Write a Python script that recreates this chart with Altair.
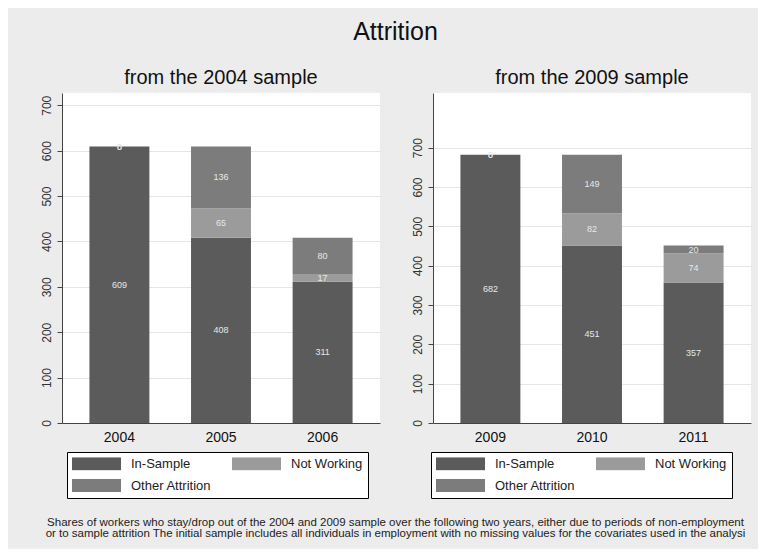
import altair as alt
import pandas as pd

FONT = "Liberation Sans, Arial, sans-serif"

categories = ["In-Sample", "Not Working", "Other Attrition"]
colors = ["#5b5b5b", "#9b9b9b", "#7c7c7c"]
legend_order = ["In-Sample", "Other Attrition", "Not Working"]

years_2004 = ["2004", "2005", "2006"]
in_sample_2004 = [609, 408, 311]
not_working_2004 = [0, 65, 17]
other_attrition_2004 = [0, 136, 80]

years_2009 = ["2009", "2010", "2011"]
in_sample_2009 = [682, 451, 357]
not_working_2009 = [0, 82, 74]
other_attrition_2009 = [0, 149, 20]

y_ticks = [0, 100, 200, 300, 400, 500, 600, 700]

main_title = "Attrition"
subtitles = ["from the 2004 sample", "from the 2009 sample"]
footnote = [
    "Shares of workers who stay/drop out of the 2004 and 2009 sample over the following two years, either due to periods of non-employment",
    " or to sample attrition  The initial sample includes all individuals in employment with no missing values for the covariates used in the analysi",
]


def panel(years, ins, nw, oa, title, ymax, legend_x):
    rows = []
    for i, yr in enumerate(years):
        for k, (cat, vals) in enumerate(zip(categories, [ins, nw, oa])):
            rows.append({"year": yr, "category": cat, "value": vals[i], "order": k})
    df = pd.DataFrame(rows)
    base = alt.Chart(df)
    xenc = alt.X(
        "year:N",
        sort=years,
        scale=alt.Scale(paddingInner=0.41, paddingOuter=0.27),
        axis=alt.Axis(title=None, labelAngle=0, labelFontSize=14, labelColor="#111",
                      labelFont=FONT, ticks=False, domainColor="#444", labelPadding=7,
                      grid=False),
    )
    yscale = alt.Scale(domain=[0, ymax], nice=False, zero=True)
    bars = base.mark_bar().encode(
        x=xenc,
        y=alt.Y(
            "value:Q",
            stack="zero",
            scale=yscale,
            axis=alt.Axis(title=None, values=y_ticks, labelAngle=270, labelFontSize=12,
                          labelColor="#333", labelFont=FONT, tickSize=5, tickColor="#444",
                          domainColor="#444", gridColor="#e6e6e6", labelPadding=4),
        ),
        color=alt.Color(
            "category:N",
            scale=alt.Scale(domain=categories, range=colors),
            legend=alt.Legend(
                orient="none", legendX=legend_x, legendY=359, columns=2, title=None,
                values=legend_order,
                symbolType="M-1,-0.265H1V0.265H-1Z", symbolSize=2401,
                symbolStrokeWidth=0, symbolOpacity=1, clipHeight=13,
                labelFontSize=13, labelFont=FONT, labelColor="#222", labelOffset=10,
                columnPadding=20, rowPadding=8, padding=5,
                strokeColor="black", fillColor="white", labelLimit=200,
            ),
        ),
        order=alt.Order("order:Q"),
    )
    labels = (
        base.transform_window(
            cum="sum(value)", frame=[None, 0], groupby=["year"],
            sort=[alt.SortField("order")],
        )
        .transform_calculate(mid="datum.cum - datum.value / 2")
        .mark_text(fontSize=9, color="#e8e8e8", font=FONT)
        .encode(x=alt.X("year:N", sort=years), y=alt.Y("mid:Q", scale=yscale),
                text="value:Q")
    )
    return alt.layer(bars, labels).properties(
        width=318, height=330,
        title=alt.TitleParams(title, fontSize=20, font=FONT, fontWeight="normal",
                              color="#111", anchor="middle", offset=5),
    )


left = panel(years_2004, in_sample_2004, not_working_2004, other_attrition_2004,
             subtitles[0], 727, 5)
right = panel(years_2009, in_sample_2009, not_working_2009, other_attrition_2009,
              subtitles[1], 839, -2)

top = alt.hconcat(
    left, right, spacing=53, bounds="flush",
    title=alt.TitleParams(main_title, fontSize=25, font=FONT, fontWeight="normal",
                          color="#111", anchor="middle", offset=23),
).resolve_scale(color="independent").resolve_legend(color="independent")

chart = alt.vconcat(
    top,
    title=alt.TitleParams(footnote, orient="bottom", fontSize=11.5,
                          font=FONT, fontWeight="normal", color="#222",
                          anchor="middle", offset=18, lineHeight=11),
).configure_view(fill="white", stroke=None).properties(
    background="#ececec",
    padding={"left": 31, "top": 12, "right": 7, "bottom": 10},
)

chart.save("out.html", embed_options={"renderer": "svg", "actions": False})
